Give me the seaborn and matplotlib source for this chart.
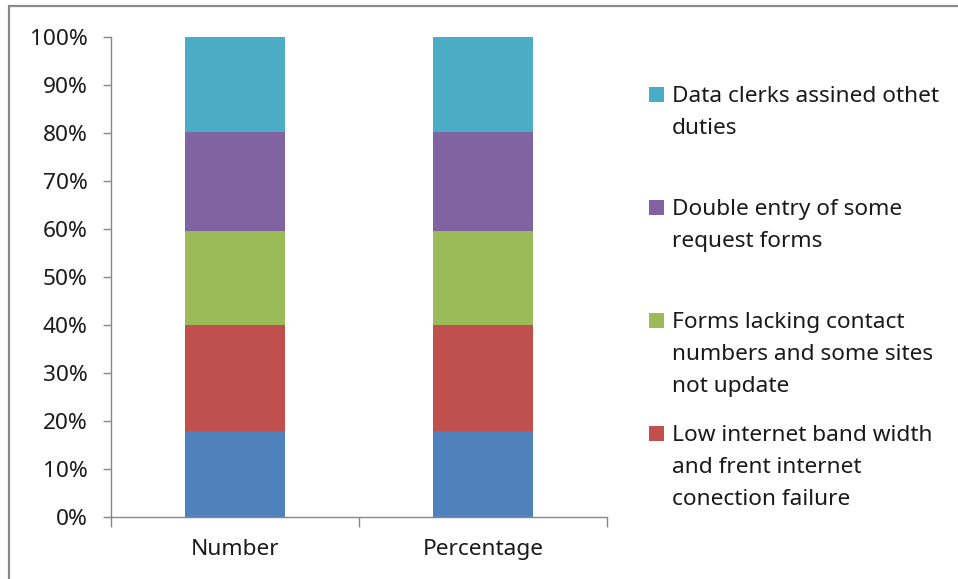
import matplotlib
matplotlib.use("Agg")
import matplotlib.pyplot as plt
import seaborn as sns
import numpy as np
from matplotlib.patches import Rectangle
from matplotlib.ticker import PercentFormatter, FixedLocator

# Categories and the share of each issue (percent of responses)
categories = ["Number", "Percentage"]
series_colors = ["#4F81BD", "#C0504D", "#9BBB59", "#8064A2", "#4BACC6"]
share_blue = [17.9, 17.9]
share_red = [22.2, 22.2]
share_green = [19.5, 19.5]
share_purple = [20.6, 20.6]
share_teal = [19.8, 19.8]

legend_entries = [
    ("Data clerks assined othet\nduties", "#4BACC6"),
    ("Double entry of some\nrequest forms", "#8064A2"),
    ("Forms lacking contact\nnumbers and some sites\nnot update", "#9BBB59"),
    ("Low internet band width\nand frent internet\nconection failure", "#C0504D"),
]
y_ticks = [0, 10, 20, 30, 40, 50, 60, 70, 80, 90, 100]

sns.set_theme(style="white")
plt.rcParams["font.family"] = ["Noto Sans", "DejaVu Sans"]
FS = 16.3

W, H = 958, 579
fig = plt.figure(figsize=(W / 100, H / 100), dpi=100)
ax = fig.add_axes([111 / W, 1 - 517 / H, (607 - 111) / W, (517 - 37) / H])

# Stack the series: normalise to 100% and draw cumulative totals from the top down
stack = np.array([share_blue, share_red, share_green, share_purple, share_teal], dtype=float)
stack = stack / stack.sum(axis=0) * 100
cumulative = np.cumsum(stack, axis=0)
for i in range(len(stack) - 1, -1, -1):
    sns.barplot(x=categories, y=cumulative[i], color=series_colors[i], width=0.4,
                saturation=1, ax=ax, linewidth=0)

ax.set_xlim(-0.5, 1.5)
ax.set_ylim(0, 100)
ax.yaxis.set_major_locator(FixedLocator(y_ticks))
ax.yaxis.set_major_formatter(PercentFormatter(decimals=0))

axis_grey = "#868686"
for side in ["top", "right"]:
    ax.spines[side].set_visible(False)
for side in ["left", "bottom"]:
    ax.spines[side].set_color(axis_grey)
    ax.spines[side].set_linewidth(1.0)

ax.tick_params(axis="y", which="major", direction="out", length=6, width=1.0,
               color=axis_grey, left=True, pad=11, labelsize=FS, labelcolor="#1a1a1a")
ax.tick_params(axis="x", which="major", length=0, pad=16, labelsize=FS, labelcolor="#1a1a1a")
ax.set_xticks([-0.5, 0.5, 1.5], minor=True)
ax.tick_params(axis="x", which="minor", direction="out", length=7, width=1.0,
               color=axis_grey, bottom=True)
ax.set_xlabel("")
ax.set_ylabel("")

# Legend drawn line by line, swatch aligned with the first line of each entry
first_baselines = [102, 215, 328, 441]
line_step = 32
for (label, color), base in zip(legend_entries, first_baselines):
    fig.patches.append(Rectangle((649 / W, 1 - base / H), 15 / W, 15 / H,
                                 transform=fig.transFigure, facecolor=color,
                                 edgecolor="none"))
    for j, line in enumerate(label.split("\n")):
        fig.text(672 / W, 1 - (base + j * line_step) / H, line, fontsize=FS,
                 va="baseline", ha="left", color="#1a1a1a")

# Chart area border
fig.patches.append(Rectangle((9 / W, -0.1), 1.2, 1 - 6 / H + 0.1,
                             transform=fig.transFigure, facecolor="none",
                             edgecolor="#898989", linewidth=1.6))

fig.savefig("out.png", dpi=100, facecolor="white")
